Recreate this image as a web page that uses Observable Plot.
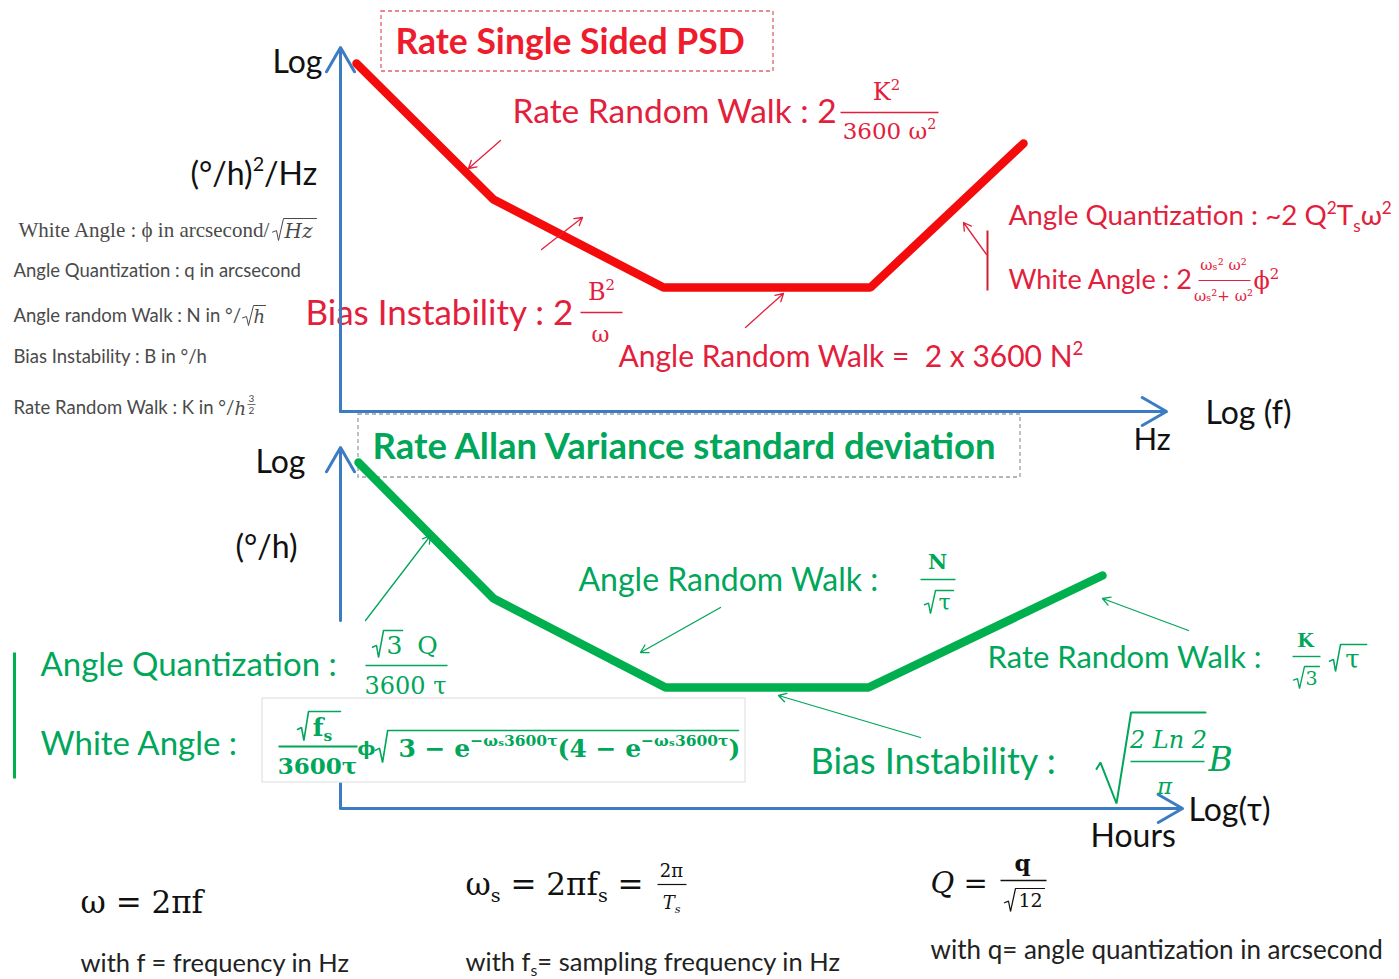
<!DOCTYPE html>
<html>
<head>
<meta charset="utf-8">
<script src="https://cdn.jsdelivr.net/npm/d3@7"></script>
<script src="https://cdn.jsdelivr.net/npm/@observablehq/plot@0.6"></script>
<style>
  body { margin: 0; background: #fff; }
</style>
</head>
<body>
<div id="chart"></div>
<script>
// Layout space: x grows to the right (log frequency / log tau), y grows downward.
const W = 1399, H = 979;

const RED_TXT = "#e2203c", RED_LINE = "#f40b0b";
const GREEN_TXT = "#00a65a", GREEN_LINE = "#00b04f";
const BLUE = "#3b7cc2", GRAY = "#4a4a4a", BLACK = "#111";

// Piecewise noise model curves (knee points)
const psdCurve = [
  {x: 356, y: 63}, {x: 493, y: 199}, {x: 663, y: 287}, {x: 870, y: 287}, {x: 1023, y: 143}
];
const allanCurve = [
  {x: 358, y: 462}, {x: 493, y: 598}, {x: 665, y: 687}, {x: 868, y: 687}, {x: 1102, y: 575}
];

// Coordinate axes (drawn as arrows); the lower vertical axis is interrupted by the formula block
const axes = [
  {x1: 340, y1: 411, x2: 340, y2: 47},
  {x1: 340, y1: 411, x2: 1166, y2: 411},
  {x1: 340, y1: 620, x2: 340, y2: 447},
  {x1: 340, y1: 808, x2: 1182, y2: 808}
];
const axisStubs = [
  {x1: 340, x2: 340, y1: 808, y2: 782}
];

// Annotation pointers
const pointers = [
  {x1: 500, y1: 140, x2: 468, y2: 168, c: RED_TXT},
  {x1: 541, y1: 249, x2: 582, y2: 217, c: RED_TXT},
  {x1: 745, y1: 327, x2: 783, y2: 293, c: RED_TXT},
  {x1: 986, y1: 254, x2: 963, y2: 222, c: RED_TXT},
  {x1: 365, y1: 620, x2: 430, y2: 535, c: GREEN_TXT},
  {x1: 720, y1: 607, x2: 640, y2: 652, c: GREEN_TXT},
  {x1: 1188, y1: 630, x2: 1102, y2: 598, c: GREEN_TXT},
  {x1: 920, y1: 737, x2: 778, y2: 695, c: GREEN_TXT}
];

// Titles in dashed frames
const frames = [
  {x1: 381, x2: 773, y1: 11, y2: 71, c: "#e06070"},
  {x1: 358, x2: 1020, y1: 414, y2: 477, c: "#9aa0a0"}
];
const titles = [
  {x: 395, y: 42, t: "Rate Single Sided PSD", s: 35.5, c: "#ee1c2c"},
  {x: 372, y: 447, t: "Rate Allan Variance standard deviation", s: 36.5, c: GREEN_TXT}
];

// Axis captions
const axisLabels = [
  {x: 272, y: 62, t: "Log", s: 32},
  {x: 190, y: 174, t: "(°/h)^{2}/Hz", s: 32},
  {x: 1205, y: 413, t: "Log (f)", s: 32},
  {x: 1133, y: 440, t: "Hz", s: 31},
  {x: 255, y: 462, t: "Log", s: 32},
  {x: 235, y: 547, t: "(°/h)", s: 32},
  {x: 1188, y: 810, t: "Log(τ)", s: 32},
  {x: 1090, y: 836, t: "Hours", s: 32}
];

// Term names
const termLabels = [
  {x: 512, y: 112, t: "Rate Random Walk : 2", s: 33.5, c: RED_TXT},
  {x: 305, y: 313, t: "Bias Instability : 2", s: 35, c: RED_TXT},
  {x: 618, y: 357, t: "Angle Random Walk =  2 x 3600 N^{2}", s: 30, c: RED_TXT},
  {x: 1008, y: 216, t: "Angle Quantization : ~2 Q^{2}T_{s}ω^{2}", s: 27.8, c: RED_TXT},
  {x: 1008, y: 280, t: "White Angle : 2", s: 27, c: RED_TXT},
  {x: 578, y: 580, t: "Angle Random Walk :", s: 32, c: GREEN_TXT},
  {x: 987, y: 658, t: "Rate Random Walk :", s: 31, c: GREEN_TXT},
  {x: 810, y: 762, t: "Bias Instability :", s: 36, c: GREEN_TXT},
  {x: 40, y: 665, t: "Angle Quantization :", s: 33, c: GREEN_TXT},
  {x: 40, y: 744, t: "White Angle :", s: 33, c: GREEN_TXT}
];

// Unit definitions
const unitLabels = [
  {x: 13, y: 271, t: "Angle Quantization : q in arcsecond", s: 18.5},
  {x: 13, y: 316, t: "Angle random Walk : N in °/", s: 18.5},
  {x: 13, y: 357, t: "Bias Instability : B in °/h", s: 18.5},
  {x: 13, y: 408, t: "Rate Random Walk : K in °/", s: 18.5}
];
const unitSerif = [
  {x: 18, y: 230, t: "White Angle : ϕ in arcsecond/", s: 21, c: GRAY}
];
const unitItalic = [
  {x: 284, y: 231, t: "Hz", s: 20, c: GRAY},
  {x: 253, y: 317, t: "h", s: 18, c: GRAY},
  {x: 234, y: 409, t: "h", s: 18, c: GRAY}
];
const unitExponent = [
  {x: 251, y: 398, t: "3", s: 10, c: GRAY},
  {x: 251, y: 410, t: "2", s: 10, c: GRAY}
];

// Formula pieces, centred
const mathCentered = [
  {x: 886, y: 92, t: "K^{2}", s: 24, c: RED_TXT},
  {x: 889, y: 131, t: "3600 ω^{2}", s: 23, c: RED_TXT},
  {x: 601, y: 292, t: "B^{2}", s: 24, c: RED_TXT},
  {x: 600, y: 334, t: "ω", s: 22, c: RED_TXT},
  {x: 1223, y: 265, t: "ωₛ² ω²", s: 15, c: RED_TXT},
  {x: 1223, y: 296, t: "ωₛ²+ ω²", s: 15, c: RED_TXT},
  {x: 427, y: 645, t: "Q", s: 25, c: GREEN_TXT},
  {x: 394, y: 645, t: "3", s: 25, c: GREEN_TXT},
  {x: 405, y: 686, t: "3600 τ", s: 24, c: GREEN_TXT},
  {x: 944, y: 602, t: "τ", s: 22, c: GREEN_TXT},
  {x: 1311, y: 678, t: "3", s: 19, c: GREEN_TXT},
  {x: 1352, y: 659, t: "τ", s: 26, c: GREEN_TXT},
  {x: 671, y: 871, t: "2π", s: 18, c: BLACK},
  {x: 1030, y: 900, t: "12", s: 19, c: BLACK}
];
const mathStart = [
  {x: 1253, y: 281, t: "ϕ^{2}", s: 24, c: RED_TXT},
  {x: 80, y: 903, t: "ω = 2πf", s: 31, c: BLACK},
  {x: 465, y: 885, t: "ω_{s} = 2πf_{s} =", s: 31, c: BLACK}
];
const mathBold = [
  {x: 937, y: 562, t: "N", s: 21, c: GREEN_TXT},
  {x: 1305, y: 640, t: "K", s: 19, c: GREEN_TXT},
  {x: 322, y: 727, t: "f_{s}", s: 25, c: GREEN_TXT},
  {x: 317, y: 766, t: "3600τ", s: 23, c: GREEN_TXT},
  {x: 1022, y: 863, t: "q", s: 23, c: BLACK}
];
const mathBoldStart = [
  {x: 357, y: 748, t: "ϕ", s: 19, c: GREEN_TXT},
  {x: 398, y: 748, t: "3 − e^{−ωₛ3600τ}(4 − e^{−ωₛ3600τ})", s: 25, c: GREEN_TXT}
];
const mathItalic = [
  {x: 1168, y: 740, t: "2 Ln 2", s: 24, c: GREEN_TXT},
  {x: 1164, y: 786, t: "π", s: 23, c: GREEN_TXT},
  {x: 671, y: 903, t: "T_{s}", s: 18, c: BLACK}
];
const mathItalicStart = [
  {x: 1208, y: 760, t: "B", s: 33, c: GREEN_TXT},
  {x: 930, y: 883, t: "Q =", s: 29, c: BLACK}
];

// Footnotes
const notes = [
  {x: 80, y: 963, t: "with f = frequency in Hz", s: 25.5},
  {x: 465, y: 962, t: "with f_{s}= sampling frequency in Hz", s: 25.5},
  {x: 930, y: 950, t: "with q= angle quantization in arcsecond", s: 26}
];

// Fraction bars and vertical brace lines
const bars = [
  {x1: 840, x2: 938, y1: 112, y2: 112, c: RED_TXT, w: 1.6},
  {x1: 580, x2: 622, y1: 312, y2: 312, c: RED_TXT, w: 1.6},
  {x1: 1198, x2: 1250, y1: 280, y2: 280, c: RED_TXT, w: 1.2},
  {x1: 987, x2: 987, y1: 230, y2: 290, c: "#d02030", w: 2},
  {x1: 365, x2: 447, y1: 665, y2: 665, c: GREEN_TXT, w: 1.6},
  {x1: 920, x2: 955, y1: 579, y2: 579, c: GREEN_TXT, w: 1.6},
  {x1: 1292, x2: 1320, y1: 656, y2: 656, c: GREEN_TXT, w: 1.4},
  {x1: 1130, x2: 1204, y1: 761, y2: 761, c: GREEN_TXT, w: 1.6},
  {x1: 278, x2: 357, y1: 746, y2: 746, c: GREEN_TXT, w: 2},
  {x1: 14, x2: 14, y1: 652, y2: 778, c: GREEN_LINE, w: 3},
  {x1: 657, x2: 686, y1: 884, y2: 884, c: BLACK, w: 1.2},
  {x1: 1000, x2: 1046, y1: 880, y2: 880, c: BLACK, w: 1.6},
  {x1: 247, x2: 255, y1: 404, y2: 404, c: GRAY, w: 0.8}
];

// Radical signs: start x, top, bottom, end of overline
const radicals = [
  {id: "hz", x0: 272, top: 218, bot: 240, end: 316, c: GRAY, w: 1},
  {id: "h", x0: 242, top: 305, bot: 325, end: 265, c: GRAY, w: 1},
  {id: "aq3", x0: 372, top: 630, bot: 657, end: 402, c: GREEN_TXT, w: 1.5},
  {id: "arwT", x0: 924, top: 590, bot: 613, end: 953, c: GREEN_TXT, w: 1.4},
  {id: "rrw3", x0: 1293, top: 666, bot: 688, end: 1319, c: GREEN_TXT, w: 1.3},
  {id: "rrwT", x0: 1329, top: 644, bot: 671, end: 1366, c: GREEN_TXT, w: 1.5},
  {id: "bi", x0: 1096, top: 712, bot: 803, end: 1205, c: GREEN_TXT, w: 2},
  {id: "fs", x0: 297, top: 711, bot: 740, end: 340, c: GREEN_TXT, w: 1.6},
  {id: "wa", x0: 375, top: 730, bot: 762, end: 738, c: GREEN_TXT, w: 1.6},
  {id: "q12", x0: 1004, top: 888, bot: 911, end: 1044, c: BLACK, w: 1.2}
];
const radicalPath = radicals.flatMap(r => {
  const h = r.bot - r.top;
  return [
    {id: r.id, c: r.c, w: r.w, x: r.x0, y: r.top + h * 0.62},
    {id: r.id, c: r.c, w: r.w, x: r.x0 + 4, y: r.top + h * 0.55},
    {id: r.id, c: r.c, w: r.w, x: r.x0 + Math.max(6, h * 0.22), y: r.bot},
    {id: r.id, c: r.c, w: r.w, x: r.x0 + Math.max(11, h * 0.38), y: r.top},
    {id: r.id, c: r.c, w: r.w, x: r.end, y: r.top}
  ];
});

// Framed block holding the white-angle formula
const panels = [
  {x1: 262, x2: 745, y1: 698, y2: 782, fill: "#fff", stroke: "#dcdcdc"}
];

const SANS = "Lato, 'Open Sans', sans-serif";
const SERIF = "'DejaVu Serif', 'Liberation Serif', serif";
const LSERIF = "'Liberation Serif', serif";

const text = (data, opts) => Plot.text(data, {
  x: "x", y: "y", text: "t", fontSize: d => d.s,
  fill: d => d.c || opts.color, textAnchor: "start", lineAnchor: "middle", ...opts
});

const chart = Plot.plot({
  width: W,
  height: H,
  margin: 0,
  x: {domain: [0, W], range: [0, W], axis: null},
  y: {domain: [0, H], range: [0, H], axis: null},
  color: {type: "identity"},
  style: {background: "#fff"},
  marks: [
    Plot.rect(frames, {x1: "x1", x2: "x2", y1: "y1", y2: "y2", fill: "none",
      stroke: "c", strokeWidth: 1.3, strokeDasharray: "4,3"}),
    Plot.line(psdCurve, {x: "x", y: "y", stroke: RED_LINE, strokeWidth: 8.5, strokeLinejoin: "miter"}),
    Plot.line(allanCurve, {x: "x", y: "y", stroke: GREEN_LINE, strokeWidth: 8.5, strokeLinejoin: "miter"}),
    text(titles, {fontWeight: "bold", fontFamily: SANS}),
    text(axisLabels, {color: BLACK, fontFamily: SANS}),
    text(termLabels, {fontFamily: SANS}),
    text(unitLabels, {color: GRAY, fontFamily: SANS}),
    text(unitSerif, {fontFamily: LSERIF}),
    text(unitItalic, {fontFamily: SERIF, fontStyle: "italic"}),
    text(unitExponent, {fontFamily: SANS, textAnchor: "middle"}),
    text(mathCentered, {fontFamily: SERIF, textAnchor: "middle"}),
    text(mathStart, {fontFamily: SERIF}),
    text(notes, {color: "#222", fontFamily: SANS}),
    Plot.arrow(axes, {x1: "x1", y1: "y1", x2: "x2", y2: "y2", stroke: BLUE,
      strokeWidth: 3, headLength: 14}),
    Plot.link(axisStubs, {x1: "x1", x2: "x2", y1: "y1", y2: "y2", stroke: BLUE, strokeWidth: 3}),
    Plot.rect(panels, {x1: "x1", x2: "x2", y1: "y1", y2: "y2", fill: "fill", stroke: "stroke"}),
    text(mathBold, {fontFamily: SERIF, fontWeight: "bold", textAnchor: "middle"}),
    text(mathBoldStart, {fontFamily: SERIF, fontWeight: "bold"}),
    text(mathItalic, {fontFamily: SERIF, fontStyle: "italic", textAnchor: "middle"}),
    text(mathItalicStart, {fontFamily: SERIF, fontStyle: "italic"}),
    Plot.link(bars, {x1: "x1", x2: "x2", y1: "y1", y2: "y2", stroke: "c", strokeWidth: "w"}),
    Plot.line(radicalPath, {x: "x", y: "y", z: "id", stroke: "c", strokeWidth: d => d.w,
      strokeLinejoin: "miter"}),
    Plot.arrow(pointers, {x1: "x1", y1: "y1", x2: "x2", y2: "y2", stroke: "c",
      strokeWidth: 1.3, headLength: 10})
  ]
});

document.getElementById("chart").appendChild(chart);

// Turn ^{...} and _{...} markers into raised / lowered tspans
function richify(root) {
  root.querySelectorAll("text").forEach(el => {
    const s = el.textContent;
    if (!/[\^_]\{/.test(s)) return;
    const fs = parseFloat(getComputedStyle(el).fontSize) || 16;
    while (el.firstChild) el.removeChild(el.firstChild);
    let off = 0;
    const add = (str, target, small) => {
      const ts = document.createElementNS("http://www.w3.org/2000/svg", "tspan");
      ts.textContent = str;
      const dy = target - off;
      if (dy) ts.setAttribute("dy", dy);
      if (small) ts.setAttribute("font-size", (fs * 0.62).toFixed(1));
      off = target;
      el.appendChild(ts);
    };
    const re = /([\^_])\{([^}]*)\}/g;
    let last = 0, m;
    while ((m = re.exec(s))) {
      if (m.index > last) add(s.slice(last, m.index), 0, false);
      add(m[2], m[1] === "^" ? -0.42 * fs : 0.22 * fs, true);
      last = re.lastIndex;
    }
    if (last < s.length) add(s.slice(last), 0, false);
  });
}
richify(chart);
</script>
</body>
</html>
